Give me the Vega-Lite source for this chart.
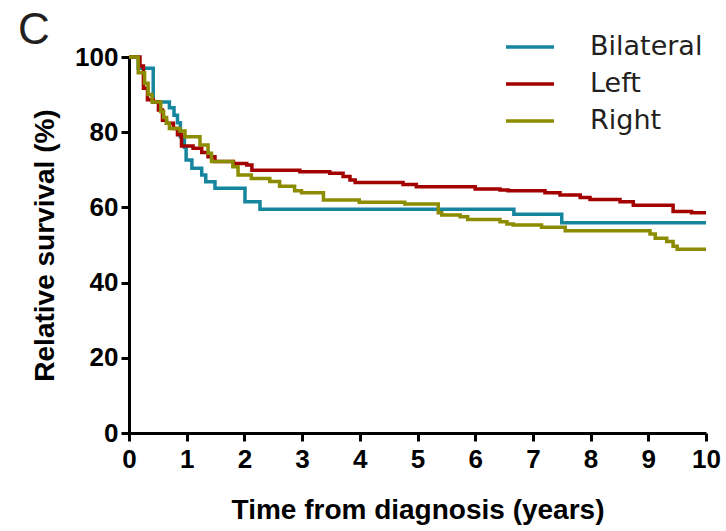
{
  "$schema": "https://vega.github.io/schema/vega-lite/v6.json",
  "autosize": {"type": "none"},
  "width": 577,
  "height": 376,
  "padding": {"left": 129, "top": 57, "right": 20, "bottom": 98},
  "background": "white",
  "config": {
    "view": {"stroke": null},
    "font": "Liberation Sans"
  },
  "title": {
    "text": "C",
    "anchor": "start",
    "frame": "group",
    "fontSize": 44,
    "fontWeight": "normal",
    "font": "Liberation Sans",
    "color": "#231f20",
    "baseline": "alphabetic",
    "offset": 0,
    "dx": -111,
    "dy": 56
  },
  "data": {
    "values": [
      {"group": "Bilateral", "time": 0, "survival": 100},
      {"group": "Bilateral", "time": 0.16, "survival": 97},
      {"group": "Bilateral", "time": 0.42, "survival": 88},
      {"group": "Bilateral", "time": 0.7, "survival": 86.5},
      {"group": "Bilateral", "time": 0.78, "survival": 84.5},
      {"group": "Bilateral", "time": 0.84, "survival": 82.5},
      {"group": "Bilateral", "time": 0.89, "survival": 78.8},
      {"group": "Bilateral", "time": 0.96, "survival": 76},
      {"group": "Bilateral", "time": 0.99, "survival": 72.6},
      {"group": "Bilateral", "time": 1.09, "survival": 70.4},
      {"group": "Bilateral", "time": 1.26, "survival": 68.6},
      {"group": "Bilateral", "time": 1.33, "survival": 66.8},
      {"group": "Bilateral", "time": 1.49, "survival": 65.1},
      {"group": "Bilateral", "time": 2.01, "survival": 61.5},
      {"group": "Bilateral", "time": 2.27, "survival": 59.5},
      {"group": "Bilateral", "time": 6.67, "survival": 58.2},
      {"group": "Bilateral", "time": 7.5, "survival": 55.9},
      {"group": "Bilateral", "time": 10, "survival": 55.9},
      {"group": "Left", "time": 0, "survival": 100},
      {"group": "Left", "time": 0.19, "survival": 97.6},
      {"group": "Left", "time": 0.25, "survival": 91.7},
      {"group": "Left", "time": 0.32, "survival": 88.6},
      {"group": "Left", "time": 0.42, "survival": 88.1},
      {"group": "Left", "time": 0.51, "survival": 85.9},
      {"group": "Left", "time": 0.58, "survival": 83.2},
      {"group": "Left", "time": 0.65, "survival": 82.4},
      {"group": "Left", "time": 0.77, "survival": 81},
      {"group": "Left", "time": 0.84, "survival": 79.3},
      {"group": "Left", "time": 0.91, "survival": 76.3},
      {"group": "Left", "time": 1.11, "survival": 75.7},
      {"group": "Left", "time": 1.26, "survival": 74.6},
      {"group": "Left", "time": 1.37, "survival": 73.5},
      {"group": "Left", "time": 1.49, "survival": 72.2},
      {"group": "Left", "time": 1.81, "survival": 71.7},
      {"group": "Left", "time": 2.04, "survival": 71.3},
      {"group": "Left", "time": 2.13, "survival": 69.9},
      {"group": "Left", "time": 2.96, "survival": 69.5},
      {"group": "Left", "time": 3.48, "survival": 69.1},
      {"group": "Left", "time": 3.71, "survival": 68.2},
      {"group": "Left", "time": 3.83, "survival": 67.3},
      {"group": "Left", "time": 3.92, "survival": 66.6},
      {"group": "Left", "time": 4.75, "survival": 66.1},
      {"group": "Left", "time": 4.98, "survival": 65.5},
      {"group": "Left", "time": 6.0, "survival": 64.9},
      {"group": "Left", "time": 6.43, "survival": 64.6},
      {"group": "Left", "time": 6.57, "survival": 64.4},
      {"group": "Left", "time": 7.21, "survival": 63.9},
      {"group": "Left", "time": 7.47, "survival": 63.3},
      {"group": "Left", "time": 7.82, "survival": 62.6},
      {"group": "Left", "time": 7.99, "survival": 62.1},
      {"group": "Left", "time": 8.51, "survival": 61.5},
      {"group": "Left", "time": 8.74, "survival": 60.6},
      {"group": "Left", "time": 9.43, "survival": 58.9},
      {"group": "Left", "time": 9.75, "survival": 58.6},
      {"group": "Left", "time": 10, "survival": 58.6},
      {"group": "Right", "time": 0, "survival": 100},
      {"group": "Right", "time": 0.16, "survival": 95.8},
      {"group": "Right", "time": 0.27, "survival": 93},
      {"group": "Right", "time": 0.33, "survival": 90},
      {"group": "Right", "time": 0.4, "survival": 88},
      {"group": "Right", "time": 0.55, "survival": 85.5},
      {"group": "Right", "time": 0.6, "survival": 83.9},
      {"group": "Right", "time": 0.65, "survival": 82.4},
      {"group": "Right", "time": 0.7, "survival": 81},
      {"group": "Right", "time": 0.88, "survival": 80.3},
      {"group": "Right", "time": 0.97, "survival": 78.8},
      {"group": "Right", "time": 1.23, "survival": 76.6},
      {"group": "Right", "time": 1.37, "survival": 74.4},
      {"group": "Right", "time": 1.43, "survival": 72.2},
      {"group": "Right", "time": 1.8, "survival": 70.8},
      {"group": "Right", "time": 1.89, "survival": 68.6},
      {"group": "Right", "time": 2.12, "survival": 67.7},
      {"group": "Right", "time": 2.44, "survival": 66.9},
      {"group": "Right", "time": 2.61, "survival": 65.6},
      {"group": "Right", "time": 2.87, "survival": 64.4},
      {"group": "Right", "time": 2.99, "survival": 63.9},
      {"group": "Right", "time": 3.37, "survival": 62},
      {"group": "Right", "time": 3.99, "survival": 61.4},
      {"group": "Right", "time": 4.78, "survival": 60.9},
      {"group": "Right", "time": 5.36, "survival": 58.6},
      {"group": "Right", "time": 5.42, "survival": 58},
      {"group": "Right", "time": 5.74, "survival": 57.5},
      {"group": "Right", "time": 5.87, "survival": 56.8},
      {"group": "Right", "time": 6.43, "survival": 56.2},
      {"group": "Right", "time": 6.55, "survival": 55.6},
      {"group": "Right", "time": 6.66, "survival": 55.3},
      {"group": "Right", "time": 7.15, "survival": 54.7},
      {"group": "Right", "time": 7.56, "survival": 53.8},
      {"group": "Right", "time": 9.03, "survival": 52.9},
      {"group": "Right", "time": 9.12, "survival": 51.8},
      {"group": "Right", "time": 9.32, "survival": 50.9},
      {"group": "Right", "time": 9.43, "survival": 49.7},
      {"group": "Right", "time": 9.5, "survival": 48.9},
      {"group": "Right", "time": 10, "survival": 48.9}
    ]
  },
  "mark": {"type": "line", "interpolate": "step-after", "strokeWidth": 3.5, "strokeCap": "butt", "clip": false},
  "encoding": {
    "x": {
      "field": "time",
      "type": "quantitative",
      "scale": {"domain": [0, 10], "nice": false, "zero": false},
      "axis": {
        "title": "Time from diagnosis (years)",
        "values": [0, 1, 2, 3, 4, 5, 6, 7, 8, 9, 10],
        "grid": false,
        "domainColor": "black",
        "domainWidth": 3,
        "tickColor": "black",
        "tickWidth": 3,
        "tickSize": 8,
        "labelFont": "Liberation Sans",
        "labelFontSize": 26,
        "labelFontWeight": "bold",
        "labelColor": "black",
        "labelPadding": 5,
        "labelFlush": false,
        "labelOverlap": false,
        "titleFont": "Liberation Sans",
        "titleFontSize": 28,
        "titleFontWeight": "bold",
        "titleColor": "black",
        "titlePadding": 24
      }
    },
    "y": {
      "field": "survival",
      "type": "quantitative",
      "scale": {"domain": [0, 100], "nice": false},
      "axis": {
        "title": "Relative survival (%)",
        "values": [0, 20, 40, 60, 80, 100],
        "grid": false,
        "domainColor": "black",
        "domainWidth": 3,
        "tickColor": "black",
        "tickWidth": 3,
        "tickSize": 8,
        "labelFont": "Liberation Sans",
        "labelFontSize": 26,
        "labelFontWeight": "bold",
        "labelColor": "black",
        "labelPadding": 3,
        "labelFlush": false,
        "labelOverlap": false,
        "titleFont": "Liberation Sans",
        "titleFontSize": 28,
        "titleFontWeight": "bold",
        "titleColor": "black",
        "titlePadding": 15
      }
    },
    "color": {
      "field": "group",
      "type": "nominal",
      "scale": {"domain": ["Bilateral", "Left", "Right"], "range": ["#15869E", "#A30000", "#8C8C00"]},
      "legend": {
        "title": null,
        "orient": "none",
        "legendX": 375,
        "legendY": -25,
        "symbolType": "stroke",
        "symbolSize": 2304,
        "symbolStrokeWidth": 3.5,
        "clipHeight": 30,
        "rowPadding": 7,
        "labelOffset": 34,
        "labelFont": "DejaVu Sans",
        "labelFontSize": 27,
        "labelColor": "#231f20",
        "padding": 0
      }
    }
  }
}
